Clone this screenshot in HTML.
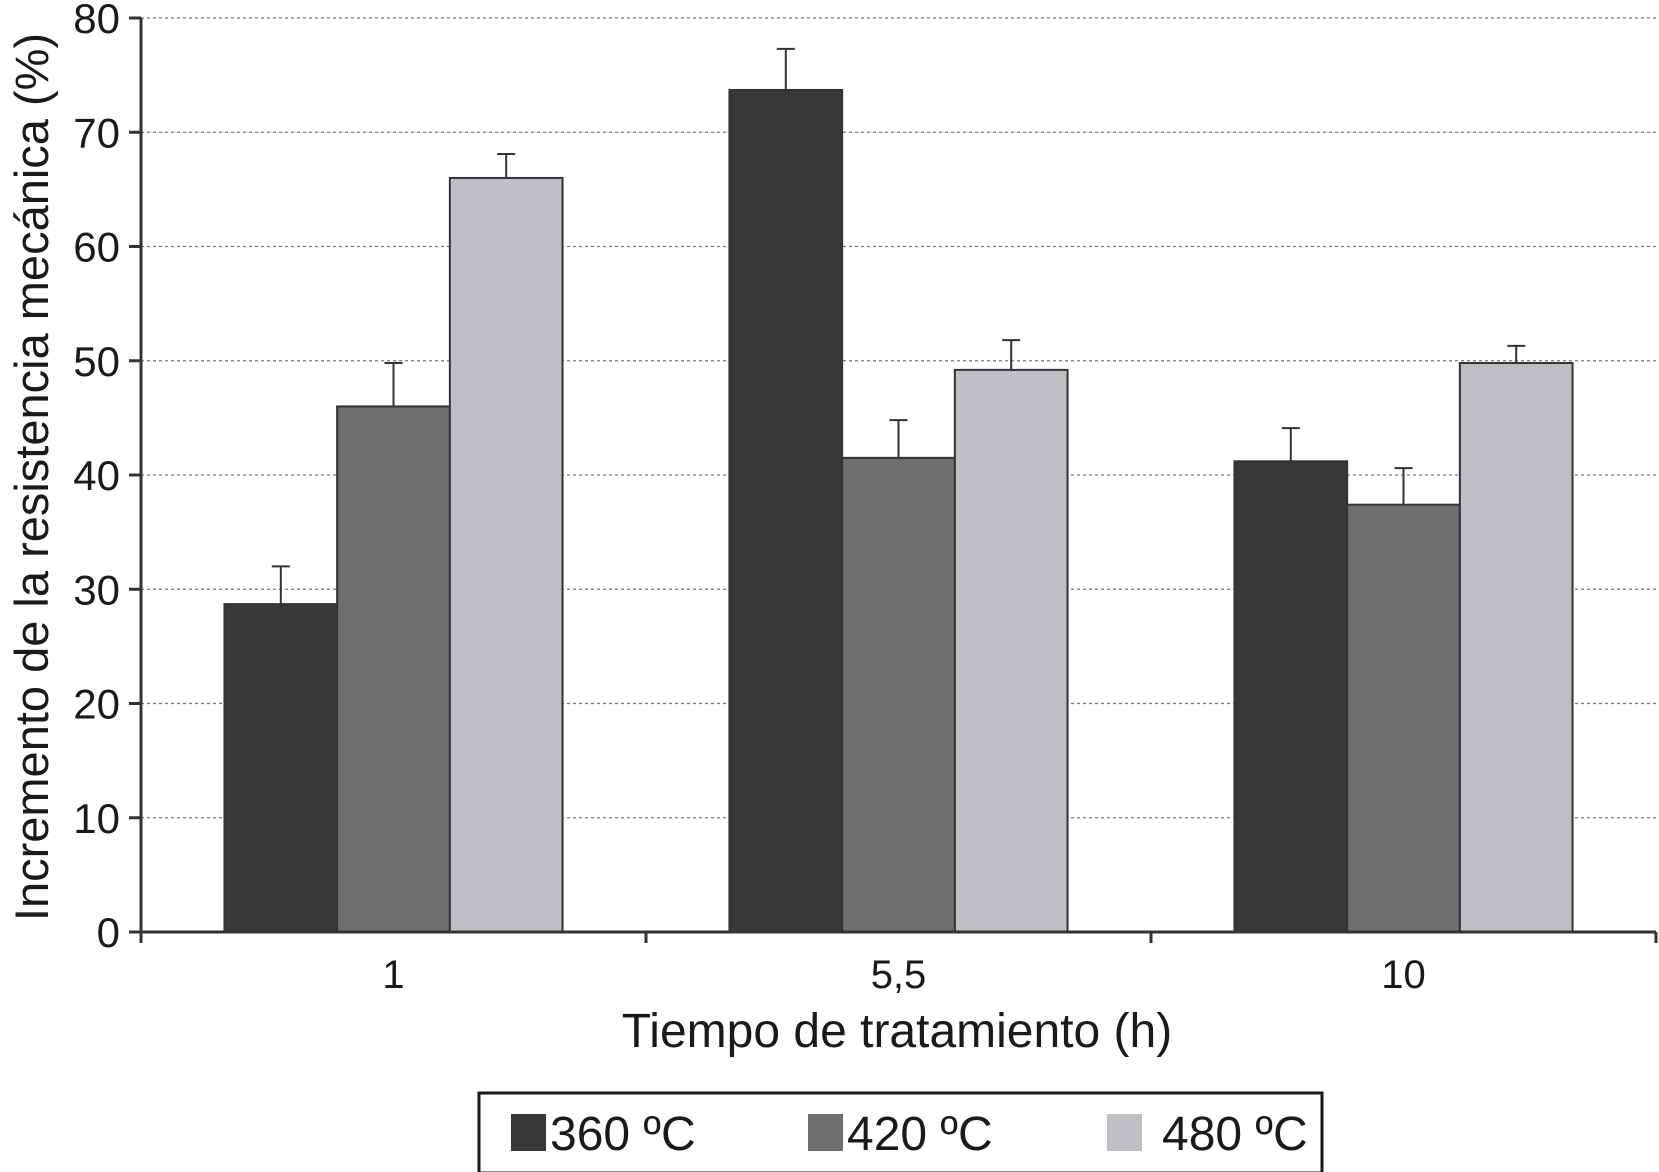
<!DOCTYPE html>
<html><head><meta charset="utf-8"><style>
html,body{margin:0;padding:0;background:#fff;}
svg{display:block;font-family:"Liberation Sans",sans-serif;}
</style></head><body>
<svg id="chart" width="1659" height="1172" viewBox="0 0 1659 1172" xmlns="http://www.w3.org/2000/svg">
<g id="grid"></g>
<g id="bars"></g>
<g id="axes"></g>
<text x="897" y="1047" font-size="48" text-anchor="middle" fill="#1a1a1a">Tiempo de tratamiento (h)</text>
<text transform="translate(48,477) rotate(-90)" font-size="47" text-anchor="middle" fill="#1a1a1a">Incremento de la resistencia mecánica (%)</text>
<g>
<rect x="479" y="1093" width="843" height="80" fill="#fff" stroke="#1a1a1a" stroke-width="3"/>
<g><rect x="511" y="1114" width="35" height="37" fill="#383838"/><text x="550" y="1150" font-size="48" fill="#1a1a1a">360 ºC</text></g>
<g><rect x="808" y="1114" width="35" height="37" fill="#6f6f71"/><text x="847" y="1150" font-size="48" fill="#1a1a1a">420 ºC</text></g>
<g><rect x="1107" y="1114" width="35" height="37" fill="#bebfc2"/><text x="1162" y="1150" font-size="48" fill="#1a1a1a">480 ºC</text></g>
</g>
</svg>
<script>
const categories = ["1", "5,5", "10"];
const series360 = [28.7, 73.7, 41.2];
const series420 = [46.0, 41.5, 37.4];
const series480 = [66.0, 49.2, 49.8];
const err360 = [3.3, 3.6, 2.9];
const err420 = [3.8, 3.3, 3.2];
const err480 = [2.1, 2.6, 1.5];
const yTicks = [0, 10, 20, 30, 40, 50, 60, 70, 80];

const NS = "http://www.w3.org/2000/svg";
const x0 = 141, x1 = 1656, yTop = 18, yBot = 932, yMax = 80;
const groupW = (x1 - x0) / categories.length;
const barW = 112.7, pad = (groupW - 3 * barW) / 2;
const y = v => yBot - v / yMax * (yBot - yTop);
function mk(tag, attrs, parent) { const e = document.createElementNS(NS, tag); for (const k in attrs) e.setAttribute(k, attrs[k]); parent.appendChild(e); return e; }
const grid = document.getElementById('grid'), bars = document.getElementById('bars'), axes = document.getElementById('axes');

yTicks.forEach(t => {
  if (t > 0) {
    const l = mk('line', {x1: x0, x2: x1, y1: y(t), y2: y(t), stroke: '#777', 'stroke-width': 1.3, 'stroke-dasharray': '3,3'}, grid);
    
    
  }
  const tk = mk('line', {x1: x0 - 12, x2: x0, y1: y(t), y2: y(t), stroke: '#333', 'stroke-width': 3}, axes);
  
  
  const tx = mk('text', {x: 120, y: y(t) + 15, 'font-size': 42, 'text-anchor': 'end', fill: '#1a1a1a'}, axes);
  tx.textContent = t;
  
  
});

const allSeries = [[series360, err360, '#383838', '360'], [series420, err420, '#6f6f71', '420'], [series480, err480, '#bebfc2', '480']];
categories.forEach((c, i) => {
  allSeries.forEach((s, j) => {
    const v = s[0][i], e = s[1][i];
    const bx = x0 + i * groupW + pad + j * barW;
    const r = mk('rect', {x: bx, y: y(v), width: barW, height: yBot - y(v), fill: s[2], stroke: '#333', 'stroke-width': 2}, bars);
    
    
    const cx = bx + barW / 2;
    const el = mk('line', {x1: cx, x2: cx, y1: y(v), y2: y(v + e), stroke: '#333', 'stroke-width': 2}, bars);
    
    
    const cap = mk('line', {x1: cx - 9, x2: cx + 9, y1: y(v + e), y2: y(v + e), stroke: '#333', 'stroke-width': 2}, bars);
    
    
  });
  const lbl = mk('text', {x: x0 + (i + 0.5) * groupW, y: 988, 'font-size': 40, 'text-anchor': 'middle', fill: '#1a1a1a'}, axes);
  lbl.textContent = c;
  
  
});
for (let i = 0; i <= categories.length; i++) {
  const gx = x0 + i * groupW;
  const t = mk('line', {x1: gx, x2: gx, y1: yBot, y2: yBot + 11, stroke: '#333', 'stroke-width': 3}, axes);
  
  
}
const ya = mk('line', {x1: x0, x2: x0, y1: yTop, y2: yBot, stroke: '#333', 'stroke-width': 3}, axes);


const xa = mk('line', {x1: x0, x2: x1, y1: yBot, y2: yBot, stroke: '#333', 'stroke-width': 3}, axes);


</script>
</body></html>
